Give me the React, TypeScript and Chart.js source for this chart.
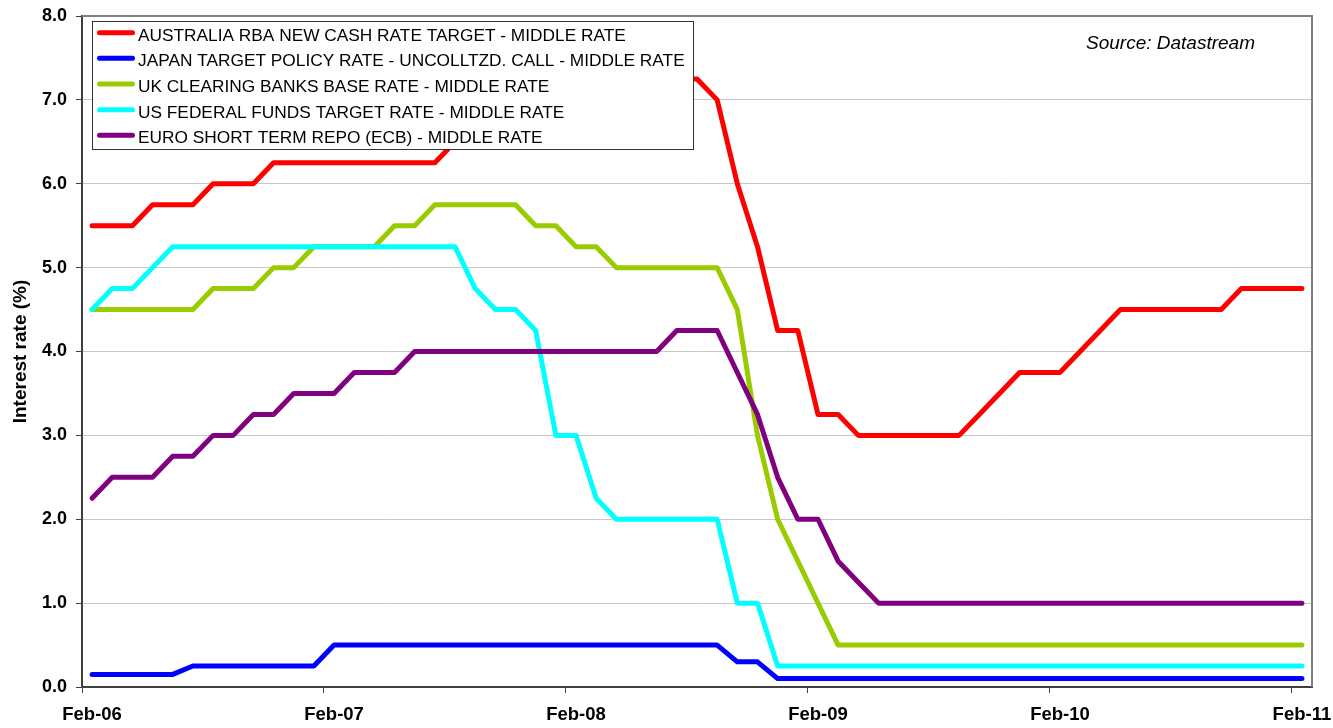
import React, { useEffect, useRef } from 'react';
import { Chart, registerables } from 'chart.js';

Chart.register(...registerables);

// ---- Data ----
const months = [
  'Feb-06', 'Mar-06', 'Apr-06', 'May-06', 'Jun-06', 'Jul-06', 'Aug-06', 'Sep-06', 'Oct-06', 'Nov-06', 'Dec-06',
  'Jan-07', 'Feb-07', 'Mar-07', 'Apr-07', 'May-07', 'Jun-07', 'Jul-07', 'Aug-07', 'Sep-07', 'Oct-07', 'Nov-07', 'Dec-07',
  'Jan-08', 'Feb-08', 'Mar-08', 'Apr-08', 'May-08', 'Jun-08', 'Jul-08', 'Aug-08', 'Sep-08', 'Oct-08', 'Nov-08', 'Dec-08',
  'Jan-09', 'Feb-09', 'Mar-09', 'Apr-09', 'May-09', 'Jun-09', 'Jul-09', 'Aug-09', 'Sep-09', 'Oct-09', 'Nov-09', 'Dec-09',
  'Jan-10', 'Feb-10', 'Mar-10', 'Apr-10', 'May-10', 'Jun-10', 'Jul-10', 'Aug-10', 'Sep-10', 'Oct-10', 'Nov-10', 'Dec-10',
  'Jan-11', 'Feb-11',
];

const xTickLabels = ['Feb-06', 'Feb-07', 'Feb-08', 'Feb-09', 'Feb-10', 'Feb-11'];

const seriesLabels = [
  'AUSTRALIA RBA NEW CASH RATE TARGET - MIDDLE RATE',
  'JAPAN TARGET POLICY RATE - UNCOLLTZD. CALL - MIDDLE RATE',
  'UK CLEARING BANKS BASE RATE - MIDDLE RATE',
  'US FEDERAL FUNDS TARGET RATE - MIDDLE RATE',
  'EURO SHORT TERM REPO (ECB) - MIDDLE RATE',
];

const seriesColors = ['#FF0000', '#0000FF', '#99CC00', '#00FFFF', '#800080'];

const australia = [
  5.5, 5.5, 5.5, 5.75, 5.75, 5.75, 6.0, 6.0, 6.0, 6.25, 6.25,
  6.25, 6.25, 6.25, 6.25, 6.25, 6.25, 6.25, 6.5, 6.5, 6.5, 6.75, 6.75,
  6.75, 7.0, 7.25, 7.25, 7.25, 7.25, 7.25, 7.25, 7.0, 6.0, 5.25, 4.25,
  4.25, 3.25, 3.25, 3.0, 3.0, 3.0, 3.0, 3.0, 3.0, 3.25, 3.5, 3.75,
  3.75, 3.75, 4.0, 4.25, 4.5, 4.5, 4.5, 4.5, 4.5, 4.5, 4.75, 4.75,
  4.75, 4.75,
];

const japan = [
  0.15, 0.15, 0.15, 0.15, 0.15, 0.25, 0.25, 0.25, 0.25, 0.25, 0.25,
  0.25, 0.5, 0.5, 0.5, 0.5, 0.5, 0.5, 0.5, 0.5, 0.5, 0.5, 0.5,
  0.5, 0.5, 0.5, 0.5, 0.5, 0.5, 0.5, 0.5, 0.5, 0.3, 0.3, 0.1,
  0.1, 0.1, 0.1, 0.1, 0.1, 0.1, 0.1, 0.1, 0.1, 0.1, 0.1, 0.1,
  0.1, 0.1, 0.1, 0.1, 0.1, 0.1, 0.1, 0.1, 0.1, 0.1, 0.1, 0.1,
  0.1, 0.1,
];

const uk = [
  4.5, 4.5, 4.5, 4.5, 4.5, 4.5, 4.75, 4.75, 4.75, 5.0, 5.0,
  5.25, 5.25, 5.25, 5.25, 5.5, 5.5, 5.75, 5.75, 5.75, 5.75, 5.75, 5.5,
  5.5, 5.25, 5.25, 5.0, 5.0, 5.0, 5.0, 5.0, 5.0, 4.5, 3.0, 2.0,
  1.5, 1.0, 0.5, 0.5, 0.5, 0.5, 0.5, 0.5, 0.5, 0.5, 0.5, 0.5,
  0.5, 0.5, 0.5, 0.5, 0.5, 0.5, 0.5, 0.5, 0.5, 0.5, 0.5, 0.5,
  0.5, 0.5,
];

const us = [
  4.5, 4.75, 4.75, 5.0, 5.25, 5.25, 5.25, 5.25, 5.25, 5.25, 5.25,
  5.25, 5.25, 5.25, 5.25, 5.25, 5.25, 5.25, 5.25, 4.75, 4.5, 4.5, 4.25,
  3.0, 3.0, 2.25, 2.0, 2.0, 2.0, 2.0, 2.0, 2.0, 1.0, 1.0, 0.25,
  0.25, 0.25, 0.25, 0.25, 0.25, 0.25, 0.25, 0.25, 0.25, 0.25, 0.25, 0.25,
  0.25, 0.25, 0.25, 0.25, 0.25, 0.25, 0.25, 0.25, 0.25, 0.25, 0.25, 0.25,
  0.25, 0.25,
];

const euro = [
  2.25, 2.5, 2.5, 2.5, 2.75, 2.75, 3.0, 3.0, 3.25, 3.25, 3.5,
  3.5, 3.5, 3.75, 3.75, 3.75, 4.0, 4.0, 4.0, 4.0, 4.0, 4.0, 4.0,
  4.0, 4.0, 4.0, 4.0, 4.0, 4.0, 4.25, 4.25, 4.25, 3.75, 3.25, 2.5,
  2.0, 2.0, 1.5, 1.25, 1.0, 1.0, 1.0, 1.0, 1.0, 1.0, 1.0, 1.0,
  1.0, 1.0, 1.0, 1.0, 1.0, 1.0, 1.0, 1.0, 1.0, 1.0, 1.0, 1.0,
  1.0, 1.0,
];

const seriesData = [australia, japan, uk, us, euro];

const yTitle = 'Interest rate (%)';
const sourceText = 'Source: Datastream';

const FONT = "'Liberation Sans', Arial, Helvetica, sans-serif";

export default function App() {
  const ref = useRef<HTMLCanvasElement>(null);

  useEffect(() => {
    document.body.style.margin = '0';
    const canvas = ref.current;
    if (!canvas) return;

    const framePlugin = {
      id: 'frame',
      beforeDatasetsDraw(chart: any) {
        const { ctx, chartArea } = chart;
        ctx.save();
        ctx.strokeStyle = '#808080';
        ctx.lineWidth = 2;
        ctx.beginPath();
        ctx.moveTo(chartArea.left, chartArea.top);
        ctx.lineTo(chartArea.right, chartArea.top);
        ctx.lineTo(chartArea.right, chartArea.bottom);
        ctx.stroke();
        ctx.restore();
      },
    };

    const legendPlugin = {
      id: 'boxLegend',
      afterDatasetsDraw(chart: any) {
        const { ctx, chartArea } = chart;
        const bx = chartArea.left + 10;
        const by = chartArea.top + 5;
        const bw = 601;
        const bh = 128;
        ctx.save();
        ctx.fillStyle = '#FFFFFF';
        ctx.fillRect(bx, by, bw, bh);
        ctx.strokeStyle = '#333333';
        ctx.lineWidth = 1;
        ctx.strokeRect(bx + 0.5, by + 0.5, bw, bh);
        ctx.font = `17.3px ${FONT}`;
        ctx.textBaseline = 'alphabetic';
        ctx.textAlign = 'left';
        seriesLabels.forEach((label, i) => {
          const base = by + 19.7 + i * 25.65;
          ctx.strokeStyle = seriesColors[i];
          ctx.lineWidth = 5;
          ctx.lineCap = 'round';
          ctx.beginPath();
          ctx.moveTo(bx + 7.5, base - 8);
          ctx.lineTo(bx + 40.5, base - 8);
          ctx.stroke();
          ctx.fillStyle = '#000000';
          ctx.fillText(label, bx + 46, base);
        });
        // source note
        ctx.font = `italic 19px ${FONT}`;
        ctx.fillText(sourceText, chartArea.right - 226, chartArea.top + 33);
        ctx.restore();
      },
    };

    const chart = new Chart(canvas, {
      type: 'line',
      data: {
        labels: months,
        datasets: seriesData.map((d, i) => ({
          label: seriesLabels[i],
          data: d,
          borderColor: seriesColors[i],
          backgroundColor: seriesColors[i],
          borderWidth: 5,
          pointRadius: 0,
          pointHoverRadius: 0,
          tension: 0,
          fill: false,
          borderCapStyle: 'round' as const,
          borderJoinStyle: 'round' as const,
          order: seriesData.length - i,
        })),
      },
      options: {
        responsive: false,
        animation: false,
        devicePixelRatio: 1,
        layout: { padding: { top: 16, right: 21, left: 0, bottom: 0 } },
        plugins: {
          legend: { display: false },
          tooltip: { enabled: false },
          title: { display: false },
        },
        scales: {
          x: {
            type: 'category',
            offset: true,
            grid: {
              display: true,
              drawOnChartArea: false,
              drawTicks: true,
              offset: true,
              tickLength: 6,
              tickWidth: 1,
              tickColor: (c: any) =>
                c.index !== undefined && xTickLabels.includes(months[c.index]) ? '#404040' : 'rgba(0,0,0,0)',
            },
            border: { display: true, color: '#404040', width: 2 },
            ticks: {
              autoSkip: false,
              maxRotation: 0,
              minRotation: 0,
              padding: 11,
              color: '#000000',
              font: { family: FONT, size: 18.5, weight: 'bold' },
              callback: (_v: any, index: number) =>
                xTickLabels.includes(months[index]) ? months[index] : '',
            },
            afterFit: (s: any) => {
              s.height = 41;
              s.paddingLeft = 0;
              s.paddingRight = 0;
            },
          },
          y: {
            min: 0,
            max: 8,
            ticks: {
              stepSize: 1,
              padding: 9,
              color: '#000000',
              font: { family: FONT, size: 18, weight: 'bold' },
              callback: (v: any) => Number(v).toFixed(1),
            },
            grid: {
              color: '#C8C8C8',
              lineWidth: 1,
              drawTicks: true,
              tickLength: 6,
              tickColor: '#404040',
              tickWidth: 1,
            },
            border: { display: true, color: '#404040', width: 2 },
            title: {
              display: true,
              text: yTitle,
              color: '#000000',
              font: { family: FONT, size: 19, weight: 'bold' },
              padding: { top: 9, bottom: 0 },
            },
            afterFit: (s: any) => {
              s.width = 82;
              s.paddingTop = 0;
              s.paddingBottom = 0;
            },
          },
        },
      },
      plugins: [framePlugin, legendPlugin],
    } as any);

    return () => chart.destroy();
  }, []);

  return (
    <div style={{ width: 1333, height: 728, overflow: 'hidden', background: '#FFFFFF' }}>
      <canvas ref={ref} width={1333} height={728} style={{ display: 'block' }} />
    </div>
  );
}
